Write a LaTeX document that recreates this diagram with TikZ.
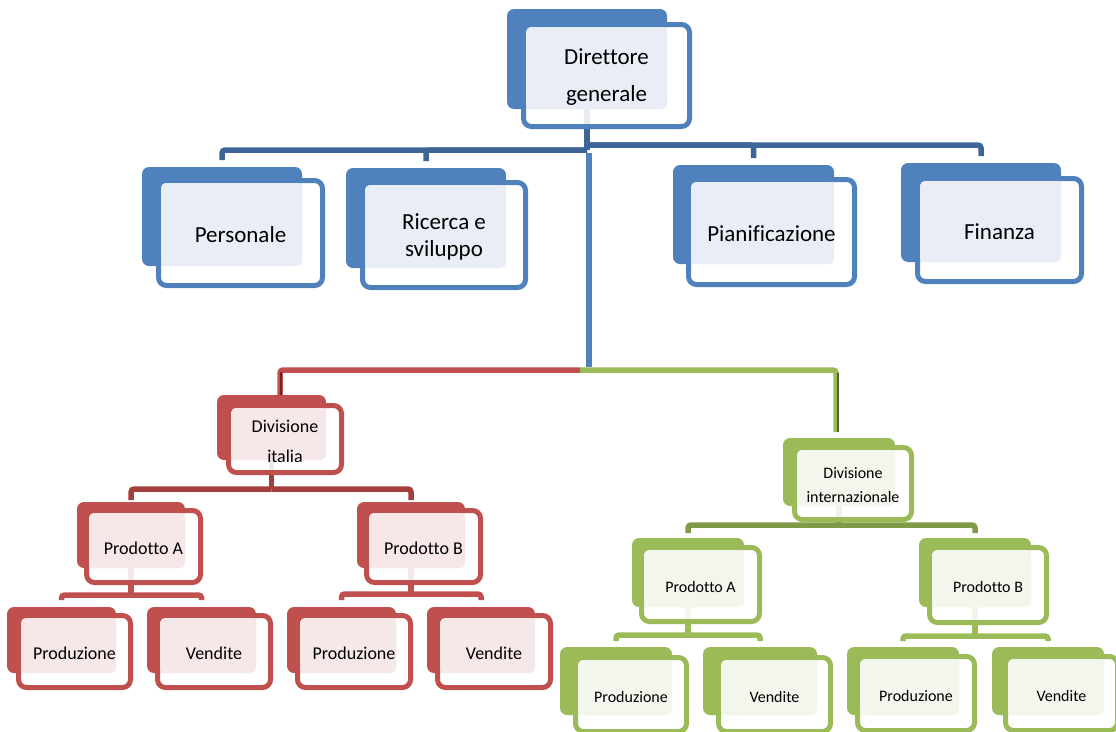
\documentclass[tikz,border=0pt]{standalone}
\usepackage{fontspec}
\setmainfont{Carlito}[Ligatures=NoCommon]
\usetikzlibrary{fit,calc,backgrounds}

% colour families: box, dark connector, light tint
\definecolor{obBlue}{HTML}{4F81BD}
\definecolor{obBlueDark}{HTML}{3D6597}
\definecolor{obBlueLight}{HTML}{E9EEF6}
\definecolor{obRed}{HTML}{C0504D}
\definecolor{obRedDark}{HTML}{A3403D}
\definecolor{obRedDeep}{HTML}{6E2624}
\definecolor{obRedLight}{HTML}{F6E8E8}
\definecolor{obGreen}{HTML}{9BBB59}
\definecolor{obGreenDark}{HTML}{7F9B47}
\definecolor{obGreenDeep}{HTML}{4F6228}
\definecolor{obGreenLight}{HTML}{F3F6EC}

\tikzset{
  backbox/.style={fill=#1, draw=none, rounded corners=7pt, inner sep=0pt, outer sep=0pt},
  framebox/.style={draw=#1, line width=5pt, fill=white, fill opacity=0.88, draw opacity=1,
                   rounded corners=8pt, inner sep=0pt, outer sep=0pt},
  tintbox/.style={fill=#1, draw=none, rounded corners=5pt, inner sep=0pt, outer sep=0pt},
  busline/.style={line width=5.5pt, rounded corners=3pt},
  boxlabel/.style={align=center, text=black, inner sep=0pt, yshift=-2pt},
}

% #1 name, #2 colour family, #3 back top-left, #4 back bottom-right,
% #5 frame top-left, #6 frame bottom-right (outer edges), #7 font, #8 text
\newcommand\orgbox[8]{%
  \coordinate (#1-b1) at #3;
  \coordinate (#1-b2) at #4;
  \coordinate (#1-f1) at ($#5+(2.5,2.5)$);
  \coordinate (#1-f2) at ($#6-(2.5,2.5)$);
  \coordinate (#1-t1) at ($#5+(5,5)$);
  \node[backbox=#2, fit=(#1-b1)(#1-b2)] (#1-back) {};
  \node[framebox=#2, fit=(#1-f1)(#1-f2)] (#1-front) {};
  \node[tintbox=#2Light, fit=(#1-t1)(#1-b2)] (#1-tint) {};
  \node[boxlabel, font=#7] (#1) at (#1-front.center) {#8};
}

\begin{document}
\begin{tikzpicture}[x=1pt,y=-1pt]
\useasboundingbox (0,0) rectangle (1116,731);
\clip (0,0) rectangle (1116,731);

% ---- top management level
\orgbox{dg}{obBlue}{(507,9)}{(667,109)}{(521,22)}{(692,129)}{\fontsize{23}{37}\selectfont}{Direttore\\generale}
\orgbox{pers}{obBlue}{(142,167)}{(302,266)}{(156,178)}{(325,288)}{\fontsize{23}{28}\selectfont}{Personale}
\orgbox{ric}{obBlue}{(346,168)}{(506,268)}{(360,180)}{(528,290)}{\fontsize{23}{27}\selectfont}{Ricerca e\\sviluppo}
\orgbox{pian}{obBlue}{(673,165)}{(834,264)}{(686,177)}{(857,287)}{\fontsize{23}{28}\selectfont}{Pianificazione}
\orgbox{fin}{obBlue}{(901,163)}{(1061,262)}{(915,176)}{(1084,284)}{\fontsize{23}{28}\selectfont}{Finanza}

% ---- Italian division
\orgbox{dit}{obRed}{(217,395)}{(326,460)}{(226,403)}{(344,475)}{\fontsize{18}{30}\selectfont}{Divisione\\italia}
\orgbox{pa}{obRed}{(77,502)}{(185,568)}{(84,508)}{(203,585)}{\fontsize{18}{22}\selectfont}{Prodotto A}
\orgbox{pb}{obRed}{(357,502)}{(465,568)}{(364,508)}{(483,585)}{\fontsize{18}{22}\selectfont}{Prodotto B}
\orgbox{pa1}{obRed}{(7,607)}{(116,673)}{(16,613)}{(133,690)}{\fontsize{18}{22}\selectfont}{Produzione}
\orgbox{pa2}{obRed}{(147,607)}{(256,673)}{(155,613)}{(273,690)}{\fontsize{18}{22}\selectfont}{Vendite}
\orgbox{pb1}{obRed}{(287,607)}{(396,673)}{(295,613)}{(413,690)}{\fontsize{18}{22}\selectfont}{Produzione}
\orgbox{pb2}{obRed}{(427,607)}{(535,673)}{(435,613)}{(553,690)}{\fontsize{18}{22}\selectfont}{Vendite}

% ---- international division
\orgbox{din}{obGreen}{(783,438)}{(895,506)}{(792,445)}{(914,522)}{\fontsize{16}{24}\selectfont}{Divisione\\internazionale}
\orgbox{ga}{obGreen}{(632,538)}{(744,607)}{(639,545)}{(762,624)}{\fontsize{16}{20}\selectfont}{Prodotto A}
\orgbox{gb}{obGreen}{(919,538)}{(1031,607)}{(927,545)}{(1049,625)}{\fontsize{16}{20}\selectfont}{Prodotto B}
\orgbox{ga1}{obGreen}{(560,647)}{(672,715)}{(573,655)}{(689,734)}{\fontsize{16}{20}\selectfont}{Produzione}
\orgbox{ga2}{obGreen}{(703,647)}{(817,715)}{(716,655)}{(833,734)}{\fontsize{16}{20}\selectfont}{Vendite}
\orgbox{gb1}{obGreen}{(847,647)}{(959,715)}{(855,654)}{(977,733)}{\fontsize{16}{20}\selectfont}{Produzione}
\orgbox{gb2}{obGreen}{(992,647)}{(1104,715)}{(1003,654)}{(1120,733)}{\fontsize{16}{20}\selectfont}{Vendite}

% ---- connectors, behind the boxes
\begin{scope}[on background layer]
  \coordinate (J0L) at (587,150);
  \coordinate (J0R) at (587,145);
  \coordinate (Jsplit) at (580,370);
  \coordinate (Jred) at (280,370);
  \coordinate (Jgreen) at (836,370);

  % staff functions
  \draw[busline, draw=obBlue] ($(J0L)+(2,3)$) -- ($(J0L |- Jsplit)+(2,-3)$);
  \draw[busline, draw=obBlueDark] (dg-back.south) -- (J0L);
  \draw[busline, draw=obBlueDark, shorten <=7pt] (pers-back.north) |- (J0L);
  \draw[busline, draw=obBlueDark, shorten <=7pt] (ric-back.north) |- (J0L);
  \draw[busline, draw=obBlueDark, shorten <=7pt] (pian-back.north) |- (J0R);
  \draw[busline, draw=obBlueDark, shorten <=7pt] (fin-back.north) |- (J0R);

  % divisions
  \draw[busline, draw=obRed] (Jsplit) -- (Jred) -- (Jred |- dit-back.north);
  \draw[line width=2pt, draw=obRedDeep] ($(Jred)+(1,2)$) -- ($(Jred |- dit-back.north)+(1,2)$);
  \draw[busline, draw=obGreen, shorten >=6pt] (Jsplit) -- (Jgreen) -- (Jgreen |- din-back.north);
  \draw[line width=2pt, draw=obGreenDeep] ($(Jgreen)+(1.5,3)$) -- ($(Jgreen |- din-back.north)+(1.5,-6)$);

  % Italian division tree
  \coordinate (J1) at (271.5,489);
  \draw[busline, draw=obRedDark] (dit-back.south) -- (J1);
  \draw[busline, draw=obRedDark, shorten <=2pt] (pa-back.north) |- (J1);
  \draw[busline, draw=obRedDark, shorten <=2pt] (pb-back.north) |- (J1);
  \coordinate (J2) at (131,595);
  \draw[busline, draw=obRed] (pa-back.south) -- (J2);
  \draw[busline, draw=obRed, shorten <=7pt] (pa1-back.north) |- (J2);
  \draw[busline, draw=obRed, shorten <=7pt] (pa2-back.north) |- (J2);
  \coordinate (J3) at (411,594);
  \draw[busline, draw=obRed] (pb-back.south) -- (J3);
  \draw[busline, draw=obRed, shorten <=7pt] (pb1-back.north) |- (J3);
  \draw[busline, draw=obRed, shorten <=7pt] (pb2-back.north) |- (J3);

  % international division tree
  \coordinate (J4) at (839,525);
  \draw[busline, draw=obGreenDark] (din-back.south) -- (J4);
  \draw[busline, draw=obGreenDark, shorten <=5pt] (ga-back.north) |- (J4);
  \draw[busline, draw=obGreenDark, shorten <=5pt] (gb-back.north) |- (J4);
  \coordinate (J5) at (688,635);
  \draw[busline, draw=obGreen] (ga-back.south) -- (J5);
  \draw[busline, draw=obGreen, shorten <=6pt] (ga1-back.north) |- (J5);
  \draw[busline, draw=obGreen, shorten <=6pt] (ga2-back.north) |- (J5);
  \coordinate (J6) at (975,636);
  \draw[busline, draw=obGreen] (gb-back.south) -- (J6);
  \draw[busline, draw=obGreen, shorten <=6pt] (gb1-back.north) |- (J6);
  \draw[busline, draw=obGreen, shorten <=6pt] (gb2-back.north) |- (J6);
\end{scope}
\end{tikzpicture}
\end{document}
